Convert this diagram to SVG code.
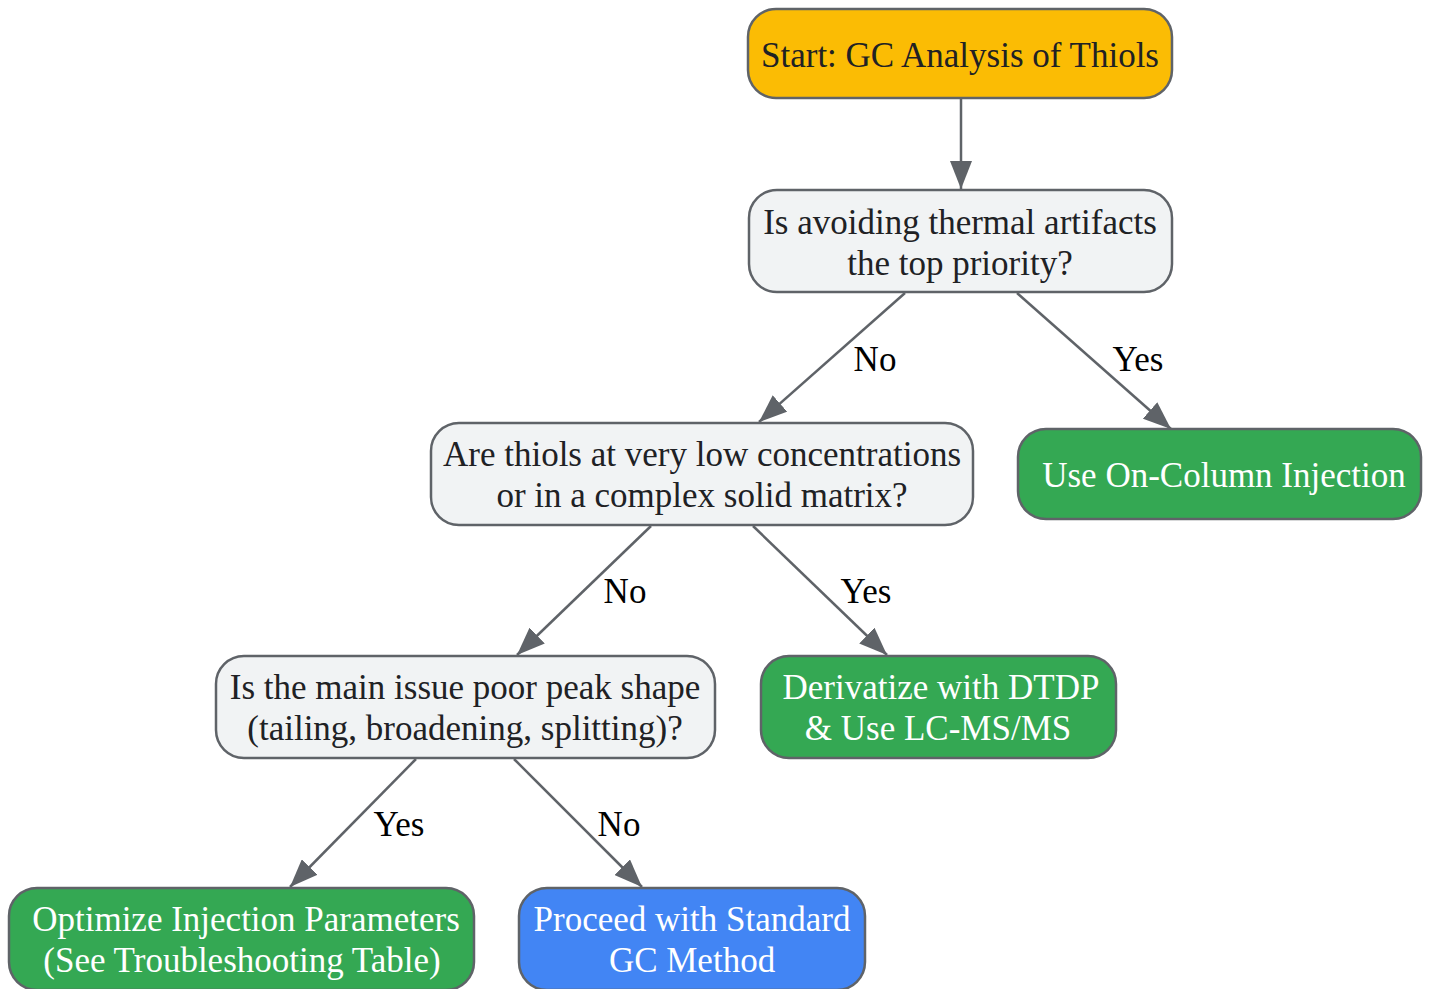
<svg xmlns="http://www.w3.org/2000/svg" width="1430" height="989" viewBox="0 0 1430 989">
<style>
.n rect{stroke:#5f6368;stroke-width:2.5}
.t{font-family:"Liberation Serif","Times New Roman",serif;font-size:35px;text-anchor:middle;dominant-baseline:central}
.dark{fill:#202124}
.light{fill:#ffffff}
.e line{stroke:#5f6368;stroke-width:2.5;fill:none}
.lbl{font-family:"Liberation Serif","Times New Roman",serif;font-size:35px;text-anchor:middle;dominant-baseline:central;fill:#000}
</style>
<defs>
<marker id="a" viewBox="0 0 28 22" refX="28" refY="11" markerWidth="28" markerHeight="22" markerUnits="userSpaceOnUse" orient="auto">
<path d="M0,0 L28,11 L0,22 z" fill="#5f6368"/>
</marker>
</defs>
<g id="edges" class="e">
<line x1="961" y1="98" x2="961" y2="189" marker-end="url(#a)"/>
<line x1="905" y1="293" x2="759" y2="422" marker-end="url(#a)"/>
<line x1="1017" y1="293" x2="1171" y2="429" marker-end="url(#a)"/>
<line x1="651" y1="526" x2="517" y2="655" marker-end="url(#a)"/>
<line x1="753" y1="526" x2="887" y2="655" marker-end="url(#a)"/>
<line x1="416" y1="759" x2="290" y2="887" marker-end="url(#a)"/>
<line x1="514" y1="759" x2="642" y2="887" marker-end="url(#a)"/>
<text class="lbl" x="875" y="359">No</text>
<text class="lbl" x="1138" y="359">Yes</text>
<text class="lbl" x="625" y="591">No</text>
<text class="lbl" x="866" y="591">Yes</text>
<text class="lbl" x="399" y="824">Yes</text>
<text class="lbl" x="619" y="824">No</text>
</g>
<g id="start" class="n">
<rect x="748" y="9" width="424" height="89" rx="28" fill="#fbbc04"/>
<text class="t dark" x="960" y="55">Start: GC Analysis of Thiols</text>
</g>
<g id="q1" class="n">
<rect x="749" y="190" width="423" height="102" rx="28" fill="#f1f3f4"/>
<text class="t dark" x="960" y="222">Is avoiding thermal artifacts</text>
<text class="t dark" x="960" y="263">the top priority?</text>
</g>
<g id="q2" class="n">
<rect x="431" y="423" width="542" height="102" rx="28" fill="#f1f3f4"/>
<text class="t dark" x="702" y="454">Are thiols at very low concentrations</text>
<text class="t dark" x="702" y="495">or in a complex solid matrix?</text>
</g>
<g id="oncol" class="n">
<rect x="1018" y="429" width="403" height="90" rx="28" fill="#34a853"/>
<text class="t light" x="1224" y="475">Use On-Column Injection</text>
</g>
<g id="q3" class="n">
<rect x="216" y="656" width="499" height="102" rx="28" fill="#f1f3f4"/>
<text class="t dark" x="465" y="687">Is the main issue poor peak shape</text>
<text class="t dark" x="465" y="728">(tailing, broadening, splitting)?</text>
</g>
<g id="deriv" class="n">
<rect x="761" y="656" width="355" height="102" rx="28" fill="#34a853"/>
<text class="t light" x="941" y="687">Derivatize with DTDP</text>
<text class="t light" x="938" y="728">&amp; Use LC-MS/MS</text>
</g>
<g id="opt" class="n">
<rect x="9" y="888" width="465" height="102" rx="28" fill="#34a853"/>
<text class="t light" x="246" y="919">Optimize Injection Parameters</text>
<text class="t light" x="242" y="960">(See Troubleshooting Table)</text>
</g>
<g id="proceed" class="n">
<rect x="519" y="888" width="346" height="102" rx="28" fill="#4285f4"/>
<text class="t light" x="692" y="919">Proceed with Standard</text>
<text class="t light" x="692" y="960">GC Method</text>
</g>
</svg>
